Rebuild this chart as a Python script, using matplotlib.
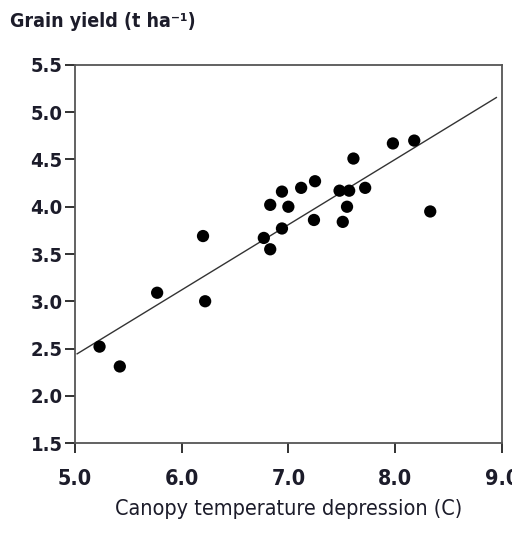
import matplotlib
matplotlib.use("Agg")
import matplotlib.pyplot as plt
import numpy as np

# Canopy temperature depression (C) vs grain yield (t/ha)
ctd = [5.23, 5.42, 5.77, 6.20, 6.22, 6.77, 6.83, 6.83, 6.94, 6.94, 7.00, 7.12,
       7.25, 7.24, 7.48, 7.51, 7.55, 7.57, 7.61, 7.72, 7.98, 8.18, 8.33]
grain_yield = [2.52, 2.31, 3.09, 3.69, 3.00, 3.67, 3.55, 4.02, 4.16, 3.77, 4.00, 4.20,
               4.27, 3.86, 4.17, 3.84, 4.00, 4.17, 4.51, 4.20, 4.67, 4.70, 3.95]

# fitted line: yield = slope * ctd + intercept
fit_slope = 0.69
fit_intercept = -1.02
fit_range = [5.02, 8.95]

x_ticks = [5.0, 6.0, 7.0, 8.0, 9.0]
y_ticks = [1.5, 2.0, 2.5, 3.0, 3.5, 4.0, 4.5, 5.0, 5.5]

plt.rcParams["font.family"] = ["DejaVu Sans"]
plt.rcParams["font.stretch"] = "condensed"
plt.rcParams["font.weight"] = "bold"

text_color = "#1c1c2a"
frame_color = "#555555"

fig = plt.figure(figsize=(5.12, 5.37), dpi=100)
ax = fig.add_axes([0.1465, 0.175, 0.8334, 0.704])

fx = np.array(fit_range)
ax.plot(fx, fit_slope * fx + fit_intercept, color="#333333", lw=1.0, zorder=2)
ax.scatter(ctd, grain_yield, s=78, color="black", edgecolors="none", zorder=3)

ax.set_xlim(5.0, 9.0)
ax.set_ylim(1.5, 5.5)
ax.set_xticks(x_ticks)
ax.set_yticks(y_ticks)
ax.set_xticklabels([f"{v:.1f}" for v in x_ticks])
ax.set_yticklabels([f"{v:.1f}" for v in y_ticks])

for side in ["left", "right", "top", "bottom"]:
    ax.spines[side].set_color(frame_color)
    ax.spines[side].set_linewidth(1.3)

ax.tick_params(axis="x", direction="out", length=7, width=1.3, color="#222222",
               pad=12, labelsize=15.5, labelcolor=text_color)
ax.tick_params(axis="y", direction="out", length=7, width=1.3, color="#222222",
               pad=2, labelsize=14.5, labelcolor=text_color)

ax.set_xlabel("Canopy temperature depression (C)", fontsize=15.5,
              color=text_color, labelpad=7)

fig.text(0.02, 0.978, "Grain yield (t ha\u207b\u00b9)", fontsize=14,
         color=text_color, ha="left", va="top")

plt.savefig("out.png", dpi=100)
